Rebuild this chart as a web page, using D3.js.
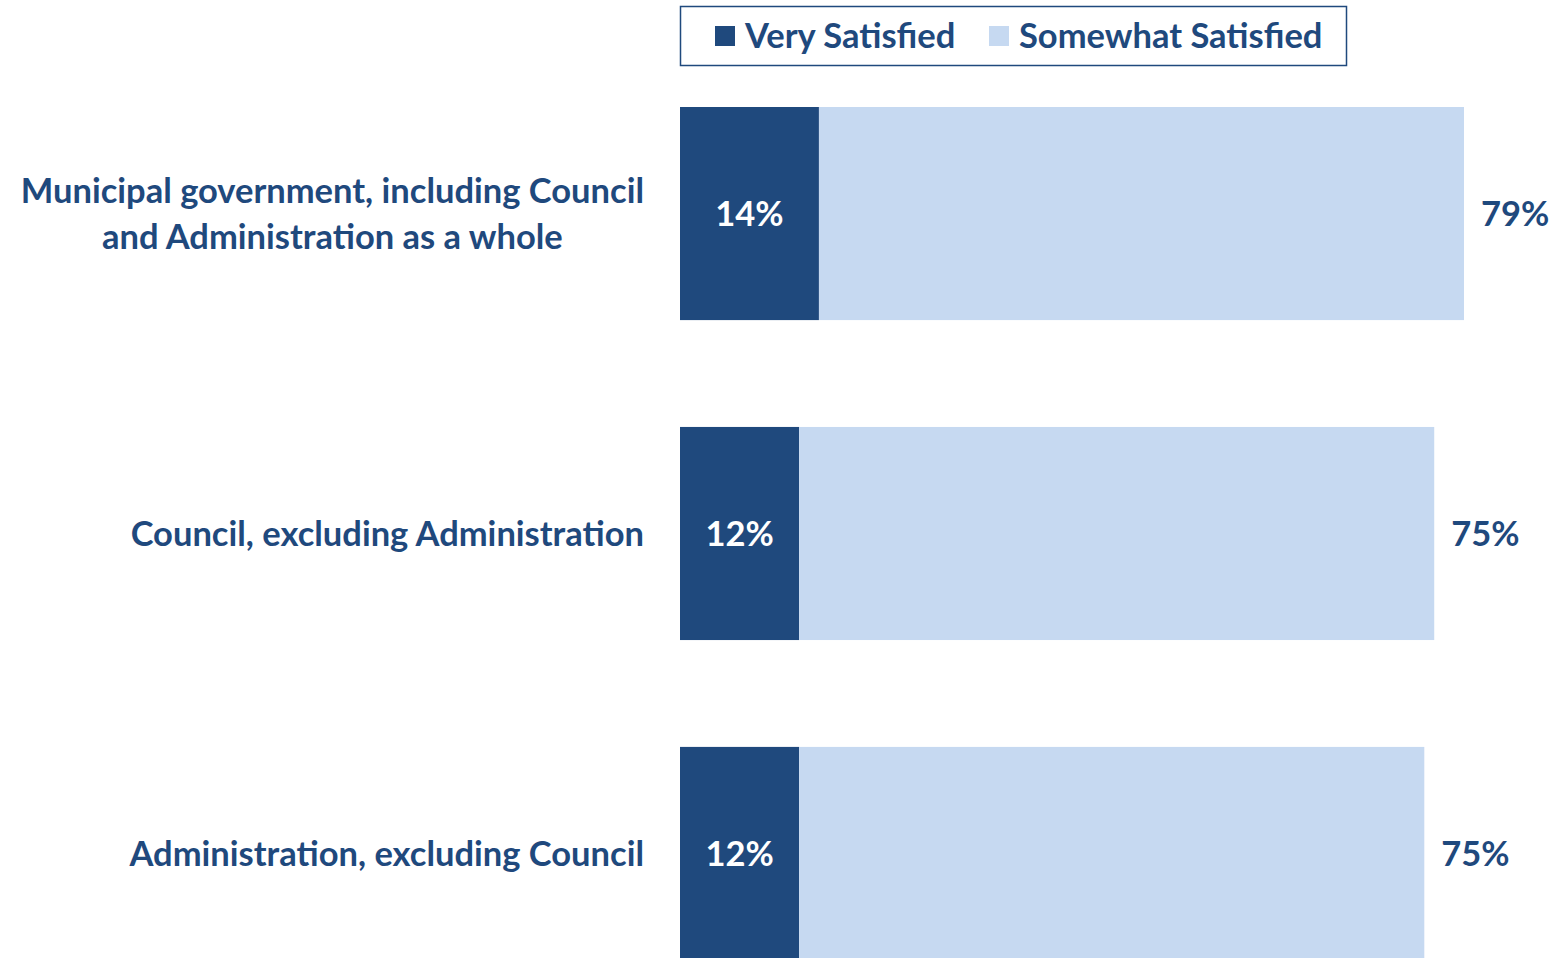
<!DOCTYPE html>
<html>
<head>
<meta charset="utf-8">
<script src="https://cdn.jsdelivr.net/npm/d3@7"></script>
<style>
  body { margin: 0; background: #fff; }
  text { font-family: Lato, "Open Sans", sans-serif; font-weight: bold; }
</style>
</head>
<body>
<script>
// data
const categories = [
  ["Municipal government, including Council", "and Administration as a whole"],
  ["Council, excluding Administration"],
  ["Administration, excluding Council"]
]
const verySatisfied = [14, 12, 12]
const somewhatSatisfied = [65, 64, 63]
const totalLabels = ["79%", "75%", "75%"]
const seriesNames = ["Very Satisfied", "Somewhat Satisfied"]

const width = 1552
const height = 958
const dark = "#1f497d"
const light = "#c6d9f1"
const fontSize = 34.5

svg = d3.select("body")
    .append("svg")
    .attr("width", width)
    .attr("height", height)

const keys = categories.map((c, i) => i)

let x = d3.scaleLinear().domain([0, 79]).range([680, 1464])
let y = d3.scaleBand().domain(keys).range([107, 960]).paddingInner(0.334)

// stacked bars
svg.selectAll("rect.very")
    .data(keys)
    .enter()
    .append("rect")
    .attr("class", "very")
    .attr("x", x(0))
    .attr("y", i => y(i))
    .attr("width", i => x(verySatisfied[i]) - x(0))
    .attr("height", y.bandwidth())
    .attr("fill", dark)

svg.selectAll("rect.some")
    .data(keys)
    .enter()
    .append("rect")
    .attr("class", "some")
    .attr("x", i => x(verySatisfied[i]))
    .attr("y", i => y(i))
    .attr("width", i => x(verySatisfied[i] + somewhatSatisfied[i]) - x(verySatisfied[i]))
    .attr("height", y.bandwidth())
    .attr("fill", light)

// labels inside dark part
svg.selectAll("text.vlab")
    .data(keys)
    .enter()
    .append("text")
    .attr("class", "vlab")
    .attr("x", i => (x(0) + x(verySatisfied[i])) / 2)
    .attr("y", i => y(i) + y.bandwidth() / 2)
    .attr("dy", "0.36em")
    .attr("text-anchor", "middle")
    .attr("fill", "#fff")
    .attr("font-size", fontSize)
    .text(i => verySatisfied[i] + "%")

// total labels
svg.selectAll("text.tlab")
    .data(keys)
    .enter()
    .append("text")
    .attr("class", "tlab")
    .attr("x", i => x(verySatisfied[i] + somewhatSatisfied[i]) + 17)
    .attr("y", i => y(i) + y.bandwidth() / 2)
    .attr("dy", "0.36em")
    .attr("fill", dark)
    .attr("font-size", fontSize)
    .text(i => totalLabels[i])

// category labels: block right-aligned at 644, lines centred inside it
const labelRight = 644
const catText = svg.selectAll("text.cat")
    .data(keys)
    .enter()
    .append("text")
    .attr("class", "cat")
    .attr("text-anchor", "middle")
    .attr("fill", dark)
    .attr("font-size", fontSize)

catText.selectAll("tspan")
    .data(i => categories[i].map((line, j) => ({ line: line, j: j, n: categories[i].length, i: i })))
    .enter()
    .append("tspan")
    .attr("y", d => y(d.i) + y.bandwidth() / 2 + (d.j - (d.n - 1) / 2) * 46)
    .attr("dy", "0.36em")
    .text(d => d.line)

catText.each(function() {
    const spans = d3.select(this).selectAll("tspan")
    let maxW = 0
    spans.each(function() { maxW = Math.max(maxW, this.getComputedTextLength()) })
    spans.attr("x", labelRight - maxW / 2)
})

// legend
const legend = svg.append("g")
legend.append("rect")
    .attr("x", 680.5)
    .attr("y", 6.5)
    .attr("width", 666)
    .attr("height", 59)
    .attr("fill", "#fff")
    .attr("stroke", dark)
    .attr("stroke-width", 1.5)

const legendX = [715, 989]
const legendColors = [dark, light]
seriesNames.forEach((name, k) => {
    legend.append("rect")
        .attr("x", legendX[k])
        .attr("y", 26)
        .attr("width", 20)
        .attr("height", 20)
        .attr("fill", legendColors[k])
    legend.append("text")
        .attr("x", legendX[k] + 30)
        .attr("y", 36)
        .attr("dy", "0.36em")
        .attr("fill", dark)
        .attr("font-size", fontSize)
        .text(name)
})
</script>
</body>
</html>
